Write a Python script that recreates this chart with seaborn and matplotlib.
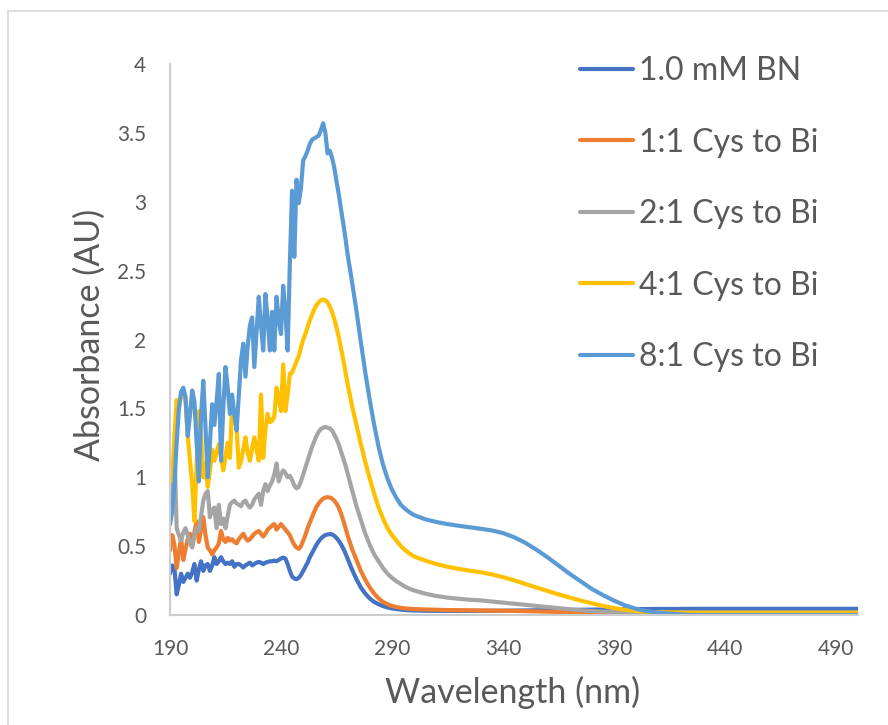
import numpy as np
import pandas as pd
import matplotlib
matplotlib.use("Agg")
import matplotlib.pyplot as plt
from matplotlib.lines import Line2D
import seaborn as sns

# Wavelength grid (nm): 1 nm steps through the noisy UV region, coarser afterwards
wavelength = np.concatenate([np.arange(190, 271, 1), np.arange(272, 301, 2), np.arange(305, 501, 5)])

series_names = ["1.0 mM BN", "1:1 Cys to Bi", "2:1 Cys to Bi", "4:1 Cys to Bi", "8:1 Cys to Bi"]
series_colors = ["#4472C4", "#ED7D31", "#A5A5A5", "#FFC000", "#5B9BD5"]

bn_only = [
    0.30, 0.36, 0.34, 0.15, 0.22, 0.30, 0.24, 0.27, 0.30, 0.27,
    0.31, 0.37, 0.25, 0.33, 0.39, 0.32, 0.36, 0.37, 0.32, 0.36,
    0.42, 0.37, 0.39, 0.42, 0.39, 0.37, 0.38, 0.37, 0.39, 0.35,
    0.37, 0.37, 0.36, 0.345, 0.36, 0.37, 0.38, 0.36, 0.37, 0.38,
    0.385, 0.38, 0.37, 0.38, 0.385, 0.39, 0.39, 0.395, 0.39, 0.40,
    0.41, 0.417, 0.41, 0.37, 0.32, 0.28, 0.265, 0.26, 0.27, 0.29,
    0.32, 0.35, 0.38, 0.42, 0.45, 0.48, 0.51, 0.535, 0.555, 0.57,
    0.58, 0.585, 0.587, 0.585, 0.575, 0.56, 0.54, 0.515, 0.485, 0.45, 0.41,
    0.33, 0.26, 0.20, 0.155, 0.12, 0.095, 0.078, 0.065, 0.055, 0.048, 0.043, 0.039, 0.036, 0.034, 0.033,
    0.031, 0.03, 0.03, 0.03, 0.03, 0.03, 0.031, 0.031, 0.032, 0.033, 0.034, 0.035, 0.036, 0.037, 0.038,
    0.039, 0.04, 0.041, 0.042, 0.043, 0.043, 0.044, 0.044, 0.044,
    0.045, 0.045, 0.045, 0.045, 0.045, 0.045, 0.045, 0.045, 0.045, 0.045, 0.045, 0.045, 0.045, 0.045, 0.045, 0.045,
]

cys_1to1 = [
    0.47, 0.58, 0.51, 0.34, 0.45, 0.56, 0.40, 0.48, 0.55, 0.59,
    0.50, 0.60, 0.68, 0.53, 0.62, 0.71, 0.58, 0.49, 0.47, 0.44,
    0.47, 0.49, 0.52, 0.61, 0.55, 0.53, 0.56, 0.54, 0.55, 0.53,
    0.52, 0.55, 0.57, 0.59, 0.56, 0.54, 0.55, 0.57, 0.59, 0.60,
    0.61, 0.59, 0.57, 0.59, 0.62, 0.635, 0.65, 0.66, 0.62, 0.64,
    0.66, 0.64, 0.62, 0.60, 0.58, 0.54, 0.51, 0.49, 0.48, 0.50,
    0.54, 0.58, 0.63, 0.67, 0.71, 0.75, 0.785, 0.81, 0.83, 0.845,
    0.853, 0.855, 0.853, 0.845, 0.83, 0.81, 0.78, 0.74, 0.69, 0.635, 0.58,
    0.48, 0.40, 0.32, 0.255, 0.20, 0.155, 0.12, 0.095, 0.078, 0.066, 0.058, 0.052, 0.048, 0.045, 0.043,
    0.04, 0.038, 0.036, 0.035, 0.034, 0.033, 0.032, 0.031, 0.03, 0.028, 0.026, 0.024, 0.022, 0.02, 0.018,
    0.016, 0.014, 0.013, 0.012, 0.011, 0.01, 0.01, 0.01, 0.01,
    0.01, 0.01, 0.01, 0.01, 0.01, 0.01, 0.01, 0.01, 0.01, 0.01, 0.01, 0.01, 0.01, 0.01, 0.01, 0.01,
]

cys_2to1 = [
    0.66, 0.95, 1.22, 0.63, 0.58, 0.54, 0.60, 0.63, 0.58, 0.52,
    0.49, 0.58, 0.63, 0.61, 0.72, 0.83, 0.88, 0.90, 0.71, 0.76,
    0.78, 0.63, 0.80, 0.66, 0.70, 0.63, 0.72, 0.80, 0.82, 0.83,
    0.81, 0.80, 0.79, 0.82, 0.83, 0.80, 0.78, 0.80, 0.84, 0.86,
    0.88, 0.80, 0.90, 0.95, 0.90, 0.94, 0.97, 1.02, 1.10, 0.97,
    1.02, 1.05, 1.03, 1.00, 1.01, 0.98, 0.94, 0.92, 0.93, 0.97,
    1.02, 1.07, 1.12, 1.17, 1.22, 1.26, 1.30, 1.33, 1.35, 1.36,
    1.365, 1.36, 1.355, 1.34, 1.31, 1.28, 1.24, 1.19, 1.14, 1.09, 1.03,
    0.91, 0.79, 0.69, 0.59, 0.51, 0.44, 0.39, 0.34, 0.30, 0.27, 0.245, 0.225, 0.205, 0.19, 0.178,
    0.155, 0.138, 0.126, 0.118, 0.111, 0.106, 0.098, 0.09, 0.082, 0.074, 0.066, 0.058, 0.05, 0.042, 0.035,
    0.029, 0.025, 0.022, 0.02, 0.019, 0.019, 0.019, 0.019, 0.019,
    0.019, 0.019, 0.019, 0.019, 0.019, 0.019, 0.019, 0.019, 0.019, 0.019, 0.019, 0.019, 0.019, 0.019, 0.019, 0.019,
]

cys_4to1 = [
    1.12, 0.97, 1.30, 1.56, 1.50, 1.60, 1.63, 1.55, 1.30, 1.12,
    0.95, 0.68, 1.10, 1.48, 1.30, 1.00, 1.10, 0.93, 1.05, 1.20,
    1.12, 1.18, 1.24, 1.15, 1.05, 1.15, 1.25, 1.14, 1.53, 1.45,
    1.36, 1.07, 1.12, 1.20, 1.29, 1.18, 1.12, 1.21, 1.29, 1.20,
    1.12, 1.60, 1.14, 1.35, 1.46, 1.40, 1.41, 1.44, 1.65, 1.58,
    1.48, 1.82, 1.48, 1.60, 1.75, 1.76, 1.80, 1.84, 1.88, 1.94,
    2.00, 2.04, 2.09, 2.14, 2.18, 2.22, 2.25, 2.27, 2.285, 2.29,
    2.285, 2.27, 2.24, 2.20, 2.15, 2.09, 2.02, 1.94, 1.86, 1.77, 1.68,
    1.52, 1.38, 1.24, 1.11, 0.99, 0.88, 0.78, 0.70, 0.63, 0.58, 0.54, 0.50, 0.47, 0.445, 0.425,
    0.395, 0.37, 0.35, 0.335, 0.322, 0.31, 0.295, 0.275, 0.252, 0.226, 0.2, 0.175, 0.15, 0.127, 0.105,
    0.085, 0.066, 0.05, 0.038, 0.029, 0.023, 0.02, 0.018, 0.017,
    0.016, 0.016, 0.016, 0.016, 0.016, 0.016, 0.016, 0.016, 0.016, 0.016, 0.016, 0.016, 0.016, 0.016, 0.016, 0.016,
]

cys_8to1 = [
    0.66, 0.75, 0.95, 1.25, 1.50, 1.62, 1.65, 1.58, 1.30, 1.45,
    1.63, 1.55, 1.25, 0.97, 1.45, 1.70, 1.36, 1.00, 1.25, 1.53,
    1.38, 1.55, 1.75, 1.12, 1.50, 1.80, 1.65, 1.46, 1.60, 1.45,
    1.34, 1.60, 1.85, 1.97, 1.73, 1.95, 2.10, 2.16, 1.80, 2.05,
    2.31, 2.10, 1.92, 2.33, 2.15, 1.92, 2.20, 1.92, 2.31, 2.15,
    2.04, 2.39, 2.20, 1.92, 2.55, 3.08, 2.60, 3.16, 2.99, 3.10,
    3.30, 3.33, 3.37, 3.42, 3.45, 3.46, 3.47, 3.48, 3.52, 3.57,
    3.50, 3.35, 3.37, 3.32, 3.25, 3.15, 3.06, 2.95, 2.85, 2.74, 2.62,
    2.42, 2.21, 1.98, 1.76, 1.56, 1.38, 1.22, 1.09, 0.99, 0.91, 0.85, 0.80, 0.77, 0.745, 0.725,
    0.695, 0.675, 0.66, 0.648, 0.637, 0.626, 0.614, 0.595, 0.565, 0.525, 0.475, 0.42, 0.36, 0.30, 0.245,
    0.19, 0.145, 0.105, 0.07, 0.045, 0.028, 0.017, 0.01, 0.005,
    0.0, 0.0, 0.0, 0.0, 0.0, 0.0, 0.0, 0.0, 0.0, 0.0, 0.0, 0.0, 0.0, 0.0, 0.0, 0.0,
]

x_ticks = [190, 240, 290, 340, 390, 440, 490]
y_ticks = [0, 0.5, 1, 1.5, 2, 2.5, 3, 3.5, 4]
y_tick_labels = ["0", "0.5", "1", "1.5", "2", "2.5", "3", "3.5", "4"]

frames = []
for name, vals in zip(series_names, [bn_only, cys_1to1, cys_2to1, cys_4to1, cys_8to1]):
    frames.append(pd.DataFrame({"Wavelength": wavelength, "Absorbance": vals, "Sample": name}))
spectra = pd.concat(frames, ignore_index=True)

sns.set_theme(style="white")
plt.rcParams["font.family"] = ["Lato", "DejaVu Sans"]
text_gray = "#595959"
axis_gray = "#CDCDCD"

fig = plt.figure(figsize=(8.88, 7.25), dpi=100)
ax = fig.add_axes([170 / 888, 1 - 615 / 725, 688 / 888, 551 / 725])

sns.lineplot(
    data=spectra, x="Wavelength", y="Absorbance", hue="Sample",
    hue_order=series_names, palette=series_colors, sort=False,
    estimator=None, linewidth=3.0, ax=ax, legend=False,
)
for line in ax.get_lines():
    line.set_solid_joinstyle("round")
    line.set_solid_capstyle("round")

ax.set_xlim(190, 500)
ax.set_ylim(0, 4)
ax.set_xticks(x_ticks)
ax.set_xticklabels([str(t) for t in x_ticks])
ax.set_yticks(y_ticks)
ax.set_yticklabels(y_tick_labels)
ax.tick_params(axis="both", length=0, labelsize=15, colors=text_gray)
ax.tick_params(axis="x", pad=17)
ax.tick_params(axis="y", pad=17)

for side in ["top", "right"]:
    ax.spines[side].set_visible(False)
for side in ["left", "bottom"]:
    ax.spines[side].set_color(axis_gray)
    ax.spines[side].set_linewidth(1.5)

ax.set_xlabel("Wavelength (nm)", fontsize=24.5, color=text_gray, va="center")
ax.set_ylabel("Absorbance (AU)", fontsize=24.5, color=text_gray, va="center")
ax.xaxis.set_label_coords((513 - 170) / 688, (615 - 692) / 551)
ax.yaxis.set_label_coords((90 - 170) / 688, (615 - 335) / 551)

handles = [Line2D([0], [0], color=c, linewidth=3.0, solid_capstyle="round") for c in series_colors]
ax.legend(
    handles, series_names, loc="upper left", bbox_to_anchor=(580 / 888, 1 - 56 / 725),
    bbox_transform=fig.transFigure, frameon=False, fontsize=23, labelcolor=text_gray,
    handlelength=1.65, handletextpad=0.2, labelspacing=1.3, borderpad=0, borderaxespad=0,
)

# Light chart-area outline along the top and left edges
fig.add_artist(Line2D([8 / 888, 1.0], [1 - 11 / 725, 1 - 11 / 725], transform=fig.transFigure,
                      color="#D9D9D9", linewidth=1.2))
fig.add_artist(Line2D([8 / 888, 8 / 888], [0.0, 1 - 11 / 725], transform=fig.transFigure,
                      color="#D9D9D9", linewidth=1.2))

fig.savefig("out.png", dpi=100, facecolor="white")
